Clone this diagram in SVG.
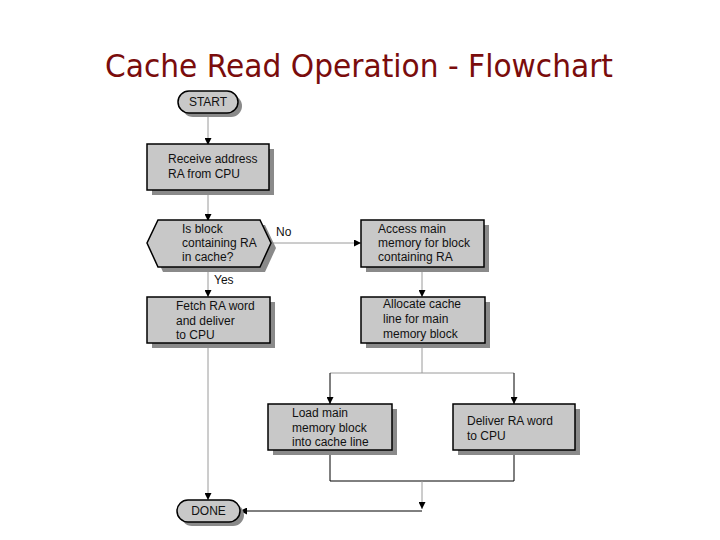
<svg xmlns="http://www.w3.org/2000/svg" width="720" height="540" viewBox="0 0 720 540">
<style>
.title{font-family:"Comic Sans MS","DejaVu Sans",sans-serif;font-size:32px;fill:#7a0c0c}
.t{font-family:"Liberation Sans",Arial,sans-serif;font-size:12px;fill:#111}
.box{fill:#c8c8c8;stroke:#000;stroke-width:1.5}
.sh{fill:#8a8a8a}
.g{stroke:#9a9a9a;stroke-width:1;fill:none}
.k{stroke:#000;stroke-width:1;fill:none}
</style>
<defs>
<marker id="ah" viewBox="0 0 8 8" refX="8" refY="4" markerWidth="7" markerHeight="7" markerUnits="userSpaceOnUse" orient="auto">
<path d="M0,0 L8,4 L0,8 Z" fill="#000"/>
</marker>
</defs>
<rect width="720" height="540" fill="#fff"/>
<text class="title" x="105" y="77" textLength="508" lengthAdjust="spacingAndGlyphs">Cache Read Operation - Flowchart</text>

<g id="connectors">
<line class="g" x1="208" y1="113" x2="208" y2="145" marker-end="url(#ah)"/>
<line class="g" x1="208" y1="190" x2="208" y2="221" marker-end="url(#ah)"/>
<line class="g" x1="271" y1="243" x2="361" y2="243" marker-end="url(#ah)"/>
<line class="g" x1="208" y1="267" x2="208" y2="297" marker-end="url(#ah)"/>
<line class="g" x1="422" y1="268" x2="422" y2="297" marker-end="url(#ah)"/>
<line class="g" x1="208" y1="343" x2="208" y2="500" marker-end="url(#ah)"/>
<polyline class="g" points="422,343 422,373"/>
<line class="g" x1="330" y1="373" x2="514" y2="373"/>
<line class="k" x1="330" y1="373" x2="330" y2="404" marker-end="url(#ah)"/>
<line class="k" x1="514" y1="373" x2="514" y2="404" marker-end="url(#ah)"/>
<polyline class="k" points="330,450 330,481 514,481 514,450"/>
<line class="g" x1="422" y1="481" x2="422" y2="509" marker-end="url(#ah)"/>
<line class="k" x1="422" y1="511" x2="240" y2="511" marker-end="url(#ah)"/>
<text class="t" x="276" y="236">No</text>
<text class="t" x="214" y="284">Yes</text>
</g>

<g id="start">
<rect class="sh" x="182" y="95" width="60" height="22" rx="11"/>
<rect class="box" x="178" y="91" width="60" height="22" rx="11"/>
<text class="t" x="208" y="106" text-anchor="middle">START</text>
</g>

<g id="receive">
<rect class="sh" x="152" y="149" width="122" height="46"/>
<rect class="box" x="147" y="144" width="122" height="46"/>
<text class="t" x="168" y="163">Receive address</text>
<text class="t" x="168" y="178">RA from CPU</text>
</g>

<g id="decision">
<polygon class="sh" points="163,225 265,225 276,248 265,272 163,272 152,248"/>
<polygon class="box" points="158,220 260,220 271,243 260,267 158,267 147,243"/>
<text class="t" x="182" y="233">Is block</text>
<text class="t" x="182" y="247">containing RA</text>
<text class="t" x="182" y="261">in cache?</text>
</g>

<g id="access">
<rect class="sh" x="366" y="225" width="123" height="47"/>
<rect class="box" x="361" y="220" width="123" height="47"/>
<text class="t" x="378" y="233">Access main</text>
<text class="t" x="378" y="247">memory for block</text>
<text class="t" x="378" y="261">containing RA</text>
</g>

<g id="fetch">
<rect class="sh" x="152" y="302" width="123" height="46"/>
<rect class="box" x="147" y="297" width="123" height="46"/>
<text class="t" x="176" y="310">Fetch RA word</text>
<text class="t" x="176" y="325">and deliver</text>
<text class="t" x="176" y="339">to CPU</text>
</g>

<g id="allocate">
<rect class="sh" x="366" y="302" width="124" height="46"/>
<rect class="box" x="361" y="297" width="124" height="46"/>
<text class="t" x="383" y="308">Allocate cache</text>
<text class="t" x="383" y="323">line for main</text>
<text class="t" x="383" y="338">memory block</text>
</g>

<g id="load">
<rect class="sh" x="273" y="409" width="124" height="46"/>
<rect class="box" x="268" y="404" width="124" height="46"/>
<text class="t" x="292" y="417">Load main</text>
<text class="t" x="292" y="432">memory block</text>
<text class="t" x="292" y="446">into cache line</text>
</g>

<g id="deliver">
<rect class="sh" x="458" y="409" width="122" height="46"/>
<rect class="box" x="453" y="404" width="122" height="46"/>
<text class="t" x="467" y="425">Deliver RA word</text>
<text class="t" x="467" y="440">to CPU</text>
</g>

<g id="done">
<rect class="sh" x="181" y="504" width="63" height="22" rx="11"/>
<rect class="box" x="177" y="500" width="63" height="22" rx="11"/>
<text class="t" x="208.5" y="515" text-anchor="middle">DONE</text>
</g>
</svg>
